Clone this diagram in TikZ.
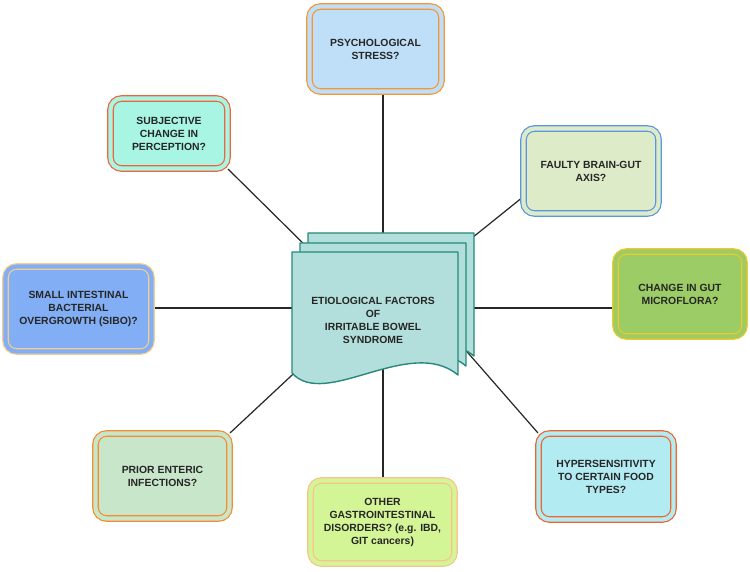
\documentclass[tikz,border=0pt]{standalone}
\usepackage{fontspec}
\setmainfont{Liberation Sans}
\usetikzlibrary{backgrounds}

\definecolor{psychFill}{RGB}{191,222,248}
\definecolor{psychLine}{RGB}{245,150,50}
\definecolor{subjFill}{RGB}{168,245,228}
\definecolor{subjLine}{RGB}{240,100,60}
\definecolor{faultyFill}{RGB}{221,235,200}
\definecolor{faultyLine}{RGB}{90,150,225}
\definecolor{gutFill}{RGB}{156,204,101}
\definecolor{gutLine}{RGB}{240,200,40}
\definecolor{siboFill}{RGB}{130,174,245}
\definecolor{siboLine}{RGB}{245,205,140}
\definecolor{hyperFill}{RGB}{178,235,242}
\definecolor{hyperLine}{RGB}{240,100,45}
\definecolor{otherFill}{RGB}{212,245,150}
\definecolor{otherLine}{RGB}{248,195,140}
\definecolor{priorFill}{RGB}{200,230,201}
\definecolor{priorLine}{RGB}{245,140,50}
\definecolor{docFill}{RGB}{178,223,219}
\definecolor{docLine}{RGB}{38,137,122}

\begin{document}
\begin{tikzpicture}[x=1pt, y=-1pt,
    every node/.style={font=\bfseries\fontsize{10.4}{13}\selectfont,
      text=black!85, align=center},
    factor/.style 2 args={draw=#2, fill=#1, double=#1, line width=1.2pt,
      double distance=4.2pt, rounded corners=11pt, minimum height=85pt,
      inner sep=2pt},
    link/.style={draw=black!85, line width=1.2pt},
    docsheet/.style={draw=docLine, fill=docFill, line width=1.4pt, line join=round},
    docpage/.pic={\path[docsheet] (0,0) -- (166,0) -- (166,123)
      .. controls (118,83) and (33,158) .. (0,121) -- cycle;}]
  \useasboundingbox (0,0) rectangle (750,572);

  %% ---------- factor boxes around the centre ----------
  \node[factor={psychFill}{psychLine}, minimum width=132pt] (psych) at (375.5,49)
    {PSYCHOLOGICAL\\STRESS?};
  \node[factor={subjFill}{subjLine}, minimum width=117pt, minimum height=70pt]
    (subj) at (169,133.5) {SUBJECTIVE\\CHANGE IN\\PERCEPTION?};
  \node[factor={faultyFill}{faultyLine}, minimum width=135pt] (faulty) at (591,171)
    {FAULTY BRAIN-GUT\\AXIS?};
  \node[factor={gutFill}{gutLine}, minimum width=129pt] (gut) at (680,294)
    {CHANGE IN GUT\\MICROFLORA?};
  \node[factor={siboFill}{siboLine}, minimum width=146pt] (sibo) at (78.5,309)
    {SMALL INTESTINAL\\BACTERIAL\\OVERGROWTH (SIBO)?};
  \node[factor={hyperFill}{hyperLine}, minimum width=135pt, minimum height=86pt]
    (hyper) at (606,476.5) {HYPERSENSITIVITY\\TO CERTAIN FOOD\\TYPES?};
  \node[factor={otherFill}{otherLine}, minimum width=144pt, minimum height=83pt]
    (other) at (382.5,522)
    {OTHER\\GASTROINTESTINAL\\DISORDERS? (e.g. IBD,\\GIT cancers)};
  \node[factor={priorFill}{priorLine}, minimum width=134pt] (prior) at (162.5,476)
    {PRIOR ENTERIC\\INFECTIONS?};

  %% ---------- centre: stacked document pages ----------
  \pic at (308,233) {docpage};
  \pic at (300,243) {docpage};
  \pic at (292,252) {docpage};
  \node (title) at (373,320)
    {ETIOLOGICAL FACTORS\\OF\\IRRITABLE BOWEL\\SYNDROME};

  % hidden ends of the links, behind the pages
  \coordinate (hub) at (383,308);
  \coordinate (subjEnd) at (315,255);
  \coordinate (faultyEnd) at (462,246);
  \coordinate (hyperEnd) at (455,338);
  \coordinate (priorEnd) at (305,363);

  %% ---------- links ----------
  \begin{scope}[on background layer]
    \fill[white] (0,0) rectangle (750,572);
    \draw[link] (hub) -- (hub |- psych.south);
    \draw[link] (hub) -- (hub |- other.north);
    \draw[link] (hub) -- (hub -| gut.west);
    \draw[link] (hub) -- (hub -| sibo.east);
    \draw[link] (subj.south east) -- (subjEnd);
    \draw[link] ([yshift=-26pt]faulty.west) -- (faultyEnd);
    \draw[link] (hyper.north west) -- (hyperEnd);
    \draw[link] (prior.north east) -- (priorEnd);
  \end{scope}
\end{tikzpicture}
\end{document}
